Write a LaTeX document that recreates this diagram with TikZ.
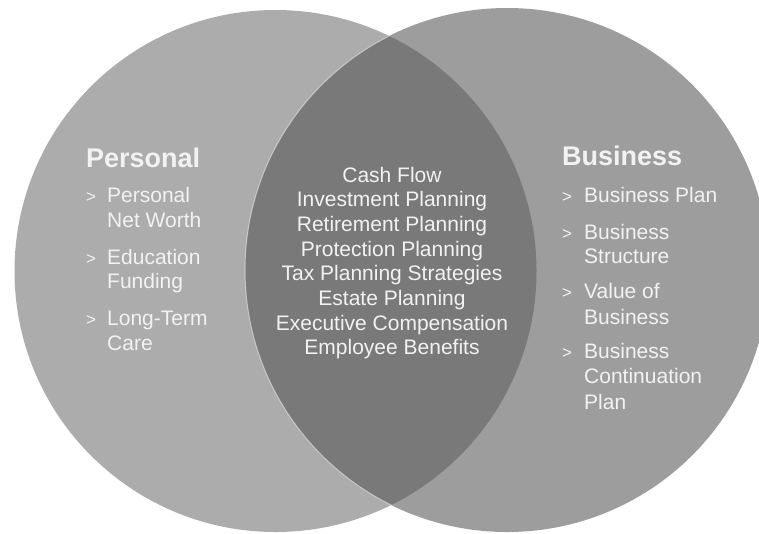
\documentclass[tikz,border=0pt]{standalone}
\usepackage{fontspec}
\setmainfont{Liberation Sans}
\definecolor{leftgray}{HTML}{ACACAC}
\definecolor{rightgray}{HTML}{9D9D9D}
\definecolor{lensgray}{HTML}{797979}
\definecolor{txt}{HTML}{F2F2F2}
\begin{document}
\begin{tikzpicture}[x=1pt,y=-1pt,
  head/.style={anchor=base west,inner sep=0pt,text=txt,font=\fontsize{27}{30}\selectfont\bfseries},
  item/.style={anchor=base west,inner sep=0pt,text=txt,font=\fontsize{21}{24}\selectfont},
  bullet/.style={anchor=base west,inner sep=0pt,text=txt,font=\fontsize{17}{20}\selectfont},
  mid/.style={anchor=base,inner sep=0pt,text=txt,font=\fontsize{21}{24}\selectfont}]
\useasboundingbox (0,0) rectangle (759,533);
\clip (0,0) rectangle (759,533);
\fill[leftgray] (275.5,271) circle[radius=261];
\fill[rightgray] (507,270) circle[radius=262];
\begin{scope}
  \clip (275.5,271) circle[radius=261];
  \fill[lensgray] (507,270) circle[radius=262];
  \draw[white!75!gray,line width=1pt,opacity=0.7] (507,270) circle[radius=262];
\end{scope}
% Personal
\node[head] (ph) at (86,167) {Personal};
\foreach \y/\t/\b [count=\i] in {202/Personal/1,227/Net Worth/0,264/Education/1,288/Funding/0,325/Long-Term/1,350/Care/0}{
  \node[item] (pl\i) at (107,\y) {\t};
  \ifnum\b=1 \node[bullet] (pb\i) at (86,\y) {>}; \fi
}
% Business
\node[head] (bh) at (562,165) {Business};
\foreach \y/\t/\b [count=\i] in {202/Business Plan/1,239/Business/1,263/Structure/0,298/Value of/1,324/Business/0,358/Business/1,383/Continuation/0,409/Plan/0}{
  \node[item] (bl\i) at (584,\y) {\t};
  \ifnum\b=1 \node[bullet] (bb\i) at (562,\y) {>}; \fi
}
% Center
\foreach \t [count=\i from 0] in {Cash Flow,Investment Planning,Retirement Planning,Protection Planning,Tax Planning Strategies,Estate Planning,Executive Compensation,Employee Benefits}{
  \node[mid] (c\i) at (392,182+24.7*\i) {\t};
}
\end{tikzpicture}
\end{document}
